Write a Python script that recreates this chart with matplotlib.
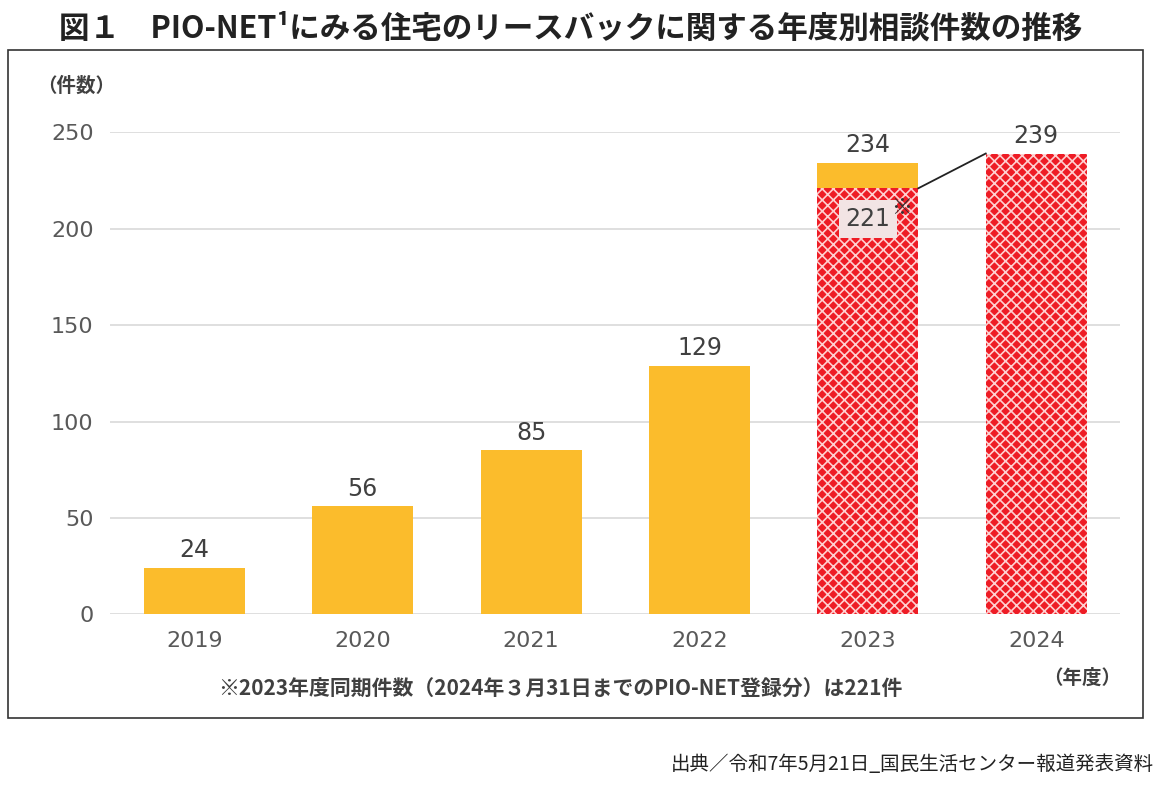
import matplotlib.pyplot as plt
from matplotlib.patches import Rectangle
import matplotlib as mpl

plt.rcParams['font.family'] = ['Noto Sans CJK JP', 'DejaVu Sans']
mpl.rcParams['hatch.linewidth'] = 1.2

years = ['2019', '2020', '2021', '2022', '2023', '2024']
counts = [24, 56, 85, 129, 234, 239]
same_period_2023 = 221
yticks = [0, 50, 100, 150, 200, 250]

orange = '#fbbc2c'
red = '#ee1c25'

fig = plt.figure(figsize=(11.72, 8.02), dpi=100)
ax = fig.add_axes([0.094, 0.234, 0.862, 0.601])

x = list(range(len(years)))
ax.bar(x[:5], counts[:5], width=0.6, color=orange, zorder=2)
# hatched red parts: 2023 same-period and 2024
ax.bar([4], [same_period_2023], width=0.6, color=red, edgecolor='#ffd0d0',
       hatch='xxx', linewidth=0, zorder=3)
ax.bar([5], [counts[5]], width=0.6, color=red, edgecolor='#ffd0d0',
       hatch='xxx', linewidth=0, zorder=3)

for i, v in enumerate(counts):
    ax.text(i, v + 3, str(v), ha='center', va='bottom', fontsize=17,
            color='#404040', family=['Liberation Sans Narrow', 'DejaVu Sans'])

ax.text(4, 205, '221', ha='center', va='center', fontsize=17, color='#404040',
        family=['Liberation Sans Narrow', 'DejaVu Sans'], zorder=5,
        bbox=dict(facecolor='#f2e4e4', edgecolor='none', pad=5))
ax.text(4.2, 211, '※', ha='center', va='center', fontsize=15, color='#333333', zorder=6)
ax.plot([4.3, 4.7], [same_period_2023, counts[5]], color='#222222', lw=1.3, zorder=4)

ax.set_xlim(-0.5, 5.5)
ax.set_ylim(0, 250)
ax.set_yticks(yticks)
ax.set_xticks(x)
ax.set_xticklabels(years)
ax.tick_params(length=0, labelsize=16, labelcolor='#595959', pad=12)
for lab in ax.get_xticklabels() + ax.get_yticklabels():
    lab.set_family(['Liberation Sans Narrow', 'DejaVu Sans'])
ax.yaxis.grid(True, color='#d9d9d9', lw=1.2, zorder=0)
ax.set_axisbelow(True)
for s in ax.spines.values():
    s.set_visible(False)

fig.text(0.032, 0.885, '（件数）', fontsize=14, color='#404040', weight='bold')
fig.text(0.89, 0.148, '（年度）', fontsize=14, color='#404040', weight='bold')
fig.text(0.478, 0.133, '※2023年度同期件数（2024年３月31日までのPIO-NET登録分）は221件',
         ha='center', fontsize=15, color='#404040', weight='bold')

fig.text(0.05, 0.965, '図１　PIO-NET¹にみる住宅のリースバックに関する年度別相談件数の推移',
         fontsize=22, weight='bold', color='#222222', va='center')
fig.text(0.985, 0.04, '出典／令和7年5月21日_国民生活センター報道発表資料',
         ha='right', fontsize=14, color='#222222')

fig.add_artist(Rectangle((0.007, 0.105), 0.968, 0.833, transform=fig.transFigure,
                         fill=False, edgecolor='#333333', lw=1.2))

fig.savefig('out.png', dpi=100)
